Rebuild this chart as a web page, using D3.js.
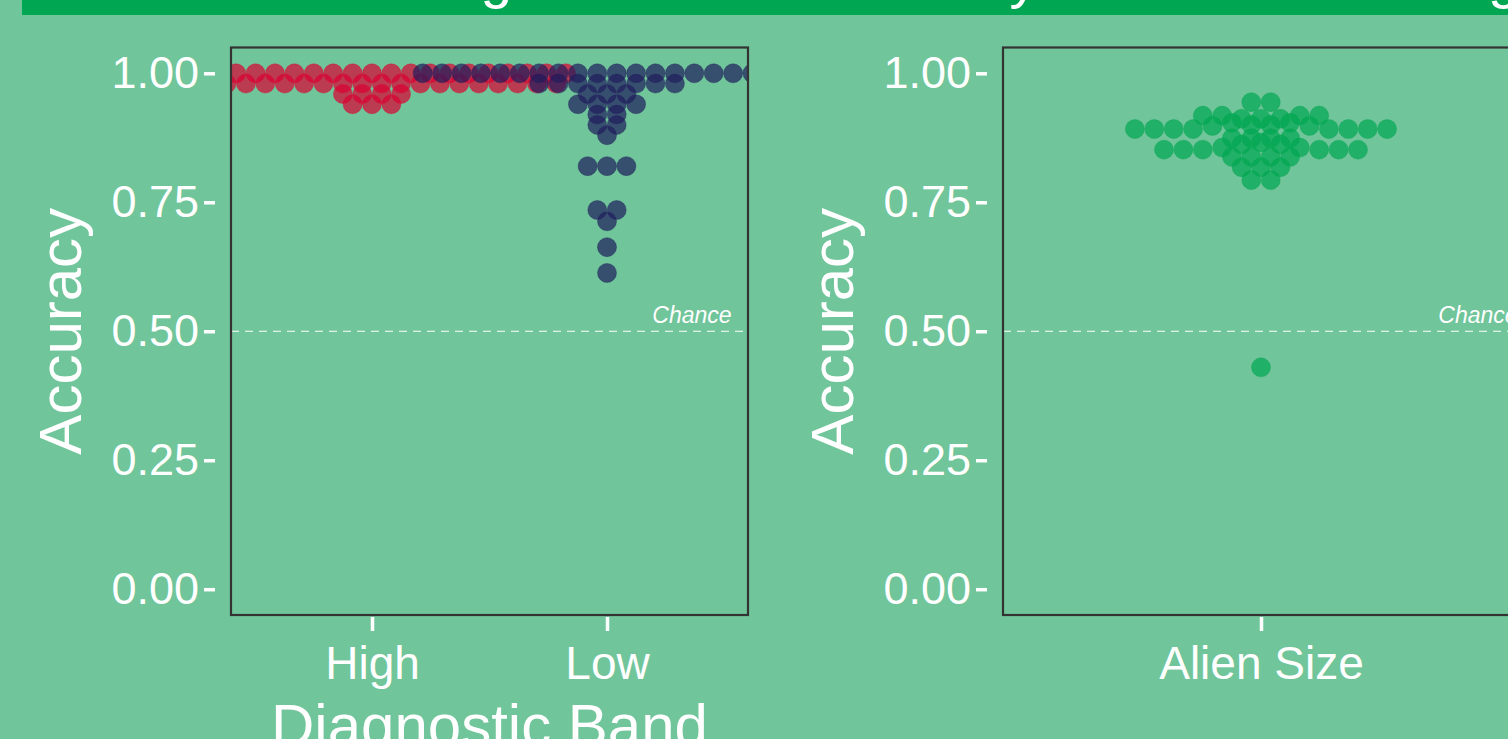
<!DOCTYPE html>
<html>
<head>
<meta charset="utf-8">
<script src="https://cdn.jsdelivr.net/npm/d3@7"></script>
<style>
  html, body { margin: 0; padding: 0; background: #70c59a; overflow: hidden; }
  text { font-family: "Liberation Sans", Arial, Helvetica, sans-serif; fill: #fff; }
</style>
</head>
<body>
<div id="chart"></div>
<script>
var width  = 1508,
    height = 739;

// ---- data (accuracy per participant) ----
var bandCats = ["High", "Low"];
var sizeCats = ["Alien Size"];

var highAcc = [
  1.00, 1.00, 1.00, 1.00, 1.00, 1.00, 1.00, 1.00, 1.00, 1.00, 1.00,
  1.00, 1.00, 1.00, 1.00, 1.00, 1.00, 1.00, 1.00, 1.00, 1.00,
  0.98, 0.98, 0.98, 0.98, 0.98, 0.98, 0.98, 0.98, 0.98, 0.98,
  0.98, 0.98, 0.98, 0.98, 0.98, 0.98, 0.98, 0.98, 0.98, 0.98,
  0.96, 0.96, 0.96, 0.96,
  0.94, 0.94, 0.94
];

var lowAcc = [
  1.00, 1.00, 1.00, 1.00, 1.00, 1.00, 1.00, 1.00, 1.00, 1.00,
  1.00, 1.00, 1.00, 1.00, 1.00, 1.00, 1.00, 1.00, 1.00, 1.00,
  0.98, 0.98, 0.98, 0.98, 0.98, 0.98, 0.98, 0.98,
  0.96, 0.96, 0.96,
  0.94, 0.94, 0.94, 0.94,
  0.92, 0.92,
  0.90, 0.90,
  0.88,
  0.82, 0.82, 0.82,
  0.735, 0.735,
  0.713,
  0.663,
  0.613
];

var sizeAcc = [
  0.944, 0.944,
  0.918, 0.918, 0.912, 0.912, 0.912, 0.918, 0.918,
  0.892, 0.892, 0.892, 0.892, 0.898, 0.904, 0.900, 0.900, 0.904, 0.898, 0.892, 0.892, 0.892, 0.892,
  0.874, 0.874, 0.874, 0.874,
  0.852, 0.852, 0.852, 0.856, 0.862, 0.866, 0.862, 0.856, 0.852, 0.852, 0.852,
  0.838, 0.838, 0.838, 0.838,
  0.818, 0.818, 0.818,
  0.793, 0.793,
  0.43
];

var colors = { "High": "#dc0030", "Low": "#1f1d5c", "Alien Size": "#00a651" };

var panelTop = 47.5, panelBottom = 615, dotR = 10, dotStep = 19.4, binW = 0.02;

var y = d3.scaleLinear().domain([-0.05, 1.05]).range([panelBottom, panelTop]);

var svg = d3.select("#chart").append("svg")
    .attr("width", width)
    .attr("height", height);

// title banner (mostly above the window)
svg.append("rect")
    .attr("x", 22).attr("y", -80)
    .attr("width", 1600).attr("height", 95)
    .attr("fill", "#00a651");
svg.append("text")
    .attr("x", 132).attr("y", -3)
    .style("font-size", "57px")
    .text("Mean Learning Curves for Accuracy Across All Training");

// centre-style beeswarm: bin along the value axis, centre each bin's points
function swarm(values, cat, xs) {
    var bins = d3.group(values.map(function(v, i) { return { v: v, i: i }; }),
        function(d) { return Math.floor((d.v - 0.01) / binW + 1e-9); });
    var out = [];
    bins.forEach(function(pts) {
        var n = pts.length;
        pts.forEach(function(d, k) {
            out.push({ cat: cat, v: d.v, x: xs(cat) + (k - (n - 1) / 2) * dotStep });
        });
    });
    return out;
}

function drawPanel(id, left, right, cats, groups, xTitle, titleX, chanceX) {
    var x = d3.scalePoint().domain(cats).range([left, right]).padding(0.6);

    svg.append("clipPath").attr("id", "clip" + id)
        .append("rect")
        .attr("x", left).attr("y", panelTop)
        .attr("width", right - left).attr("height", panelBottom - panelTop);

    var plot = svg.append("g").attr("clip-path", "url(#clip" + id + ")");

    // chance line
    plot.append("line")
        .attr("x1", left).attr("x2", right)
        .attr("y1", y(0.5)).attr("y2", y(0.5))
        .attr("stroke", "#fff").attr("stroke-width", 1)
        .attr("stroke-dasharray", "8,6");
    svg.append("text")
        .attr("x", chanceX).attr("y", y(0.5) - 8)
        .attr("text-anchor", "middle")
        .style("font-size", "23px").style("font-style", "italic")
        .text("Chance");

    groups.forEach(function(g) {
        plot.append("g").selectAll("circle")
            .data(swarm(g.values, g.cat, x))
            .enter().append("circle")
            .attr("cx", function(d) { return d.x; })
            .attr("cy", function(d) { return y(d.v); })
            .attr("r", dotR - 0.5)
            .attr("fill", colors[g.cat]).attr("fill-opacity", 0.7)
            .attr("stroke", colors[g.cat]).attr("stroke-opacity", 0.35)
            .attr("stroke-width", 1);
    });

    // panel border
    svg.append("rect")
        .attr("x", left).attr("y", panelTop)
        .attr("width", right - left).attr("height", panelBottom - panelTop)
        .attr("fill", "none").attr("stroke", "#333").attr("stroke-width", 2.2);

    // y axis
    var gy = svg.append("g")
        .attr("transform", "translate(" + (left - 16) + ",0)")
        .call(d3.axisLeft(y).tickValues([0, 0.25, 0.5, 0.75, 1])
            .tickFormat(d3.format(".2f")).tickSize(11).tickPadding(5));
    gy.select(".domain").remove();
    gy.selectAll(".tick line").attr("stroke", "#fff").attr("stroke-width", 3.5);
    gy.selectAll(".tick text").attr("fill", "#fff").style("font-size", "45px")
        .style("font-family", "Liberation Sans, Arial, sans-serif");

    // x axis
    var gx = svg.append("g")
        .attr("transform", "translate(0," + (panelBottom + 2) + ")")
        .call(d3.axisBottom(x).tickSize(14).tickPadding(15));
    gx.select(".domain").remove();
    gx.selectAll(".tick line").attr("stroke", "#fff").attr("stroke-width", 3.5);
    gx.selectAll(".tick text").attr("fill", "#fff").style("font-size", "46px")
        .style("font-family", "Liberation Sans, Arial, sans-serif");

    svg.append("text")
        .attr("transform", "translate(" + titleX + "," + ((panelTop + panelBottom) / 2) + ") rotate(-90)")
        .attr("text-anchor", "middle")
        .style("font-size", "60px")
        .text("Accuracy");

    if (xTitle) {
        svg.append("text")
            .attr("x", (left + right) / 2).attr("y", 746)
            .attr("text-anchor", "middle")
            .style("font-size", "60px")
            .text(xTitle);
    }
}

drawPanel(1, 231, 748, bandCats,
    [{ cat: "High", values: highAcc }, { cat: "Low", values: lowAcc }],
    "Diagnostic Band", 81, 692);
drawPanel(2, 1003, 1519, sizeCats,
    [{ cat: "Alien Size", values: sizeAcc }],
    null, 853, 1478);
</script>
</body>
</html>
